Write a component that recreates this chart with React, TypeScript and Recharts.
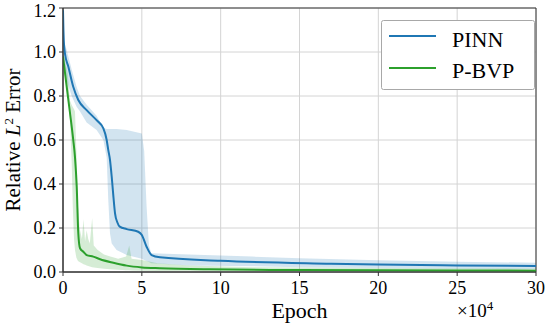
import React from 'react';
import {
  ComposedChart,
  Line,
  Area,
  XAxis,
  YAxis,
  CartesianGrid,
  Legend,
  ReferenceArea,
} from 'recharts';

// Epoch values are in units of 1e4
const xTicks = [0, 5, 10, 15, 20, 25, 30];
const yTicks = [0, 0.2, 0.4, 0.6, 0.8, 1.0, 1.2];
const seriesNames = ['PINN', 'P-BVP'];

// PINN mean curve
const pinnEpochs = [0, 0.05, 0.13, 0.34, 0.65, 0.97, 1.5, 2.13, 2.56, 2.77, 2.87, 2.98, 3.09, 3.2, 3.3, 3.45, 3.6, 4.04, 4.77, 5.0, 5.3, 5.62, 6.15, 10, 17, 20, 25, 30];
const pinnMean = [1.19, 1.05, 0.99, 0.933, 0.842, 0.782, 0.736, 0.69, 0.653, 0.6, 0.555, 0.51, 0.433, 0.34, 0.267, 0.225, 0.206, 0.195, 0.183, 0.168, 0.115, 0.077, 0.067, 0.051, 0.038, 0.034, 0.03, 0.027];

// PINN spread
const pinnBandEpochs = [0, 0.1, 0.23, 0.55, 0.87, 1.08, 1.5, 2.13, 2.56, 2.77, 2.87, 2.98, 3.09, 3.4, 4.04, 5.0, 5.15, 5.3, 5.45, 5.6, 8, 12, 15, 20, 25, 30];
const pinnHigh = [1.2, 1.04, 1.01, 0.92, 0.84, 0.8, 0.76, 0.71, 0.655, 0.65, 0.65, 0.65, 0.65, 0.65, 0.645, 0.63, 0.55, 0.3, 0.12, 0.085, 0.08, 0.07, 0.062, 0.053, 0.047, 0.042];
const pinnLow = [1.0, 0.93, 0.87, 0.8, 0.75, 0.73, 0.68, 0.645, 0.6, 0.52, 0.33, 0.176, 0.13, 0.1, 0.077, 0.06, 0.055, 0.05, 0.045, 0.04, 0.03, 0.026, 0.022, 0.018, 0.015, 0.013];

// P-BVP mean curve
const bvpEpochs = [0, 0.23, 0.44, 0.65, 0.76, 0.87, 0.97, 1.08, 1.29, 1.5, 1.92, 2.35, 3.19, 4.04, 5.0, 6.15, 9.3, 15, 20, 30];
const bvpMean = [0.98, 0.845, 0.725, 0.6, 0.522, 0.388, 0.176, 0.108, 0.092, 0.077, 0.07, 0.058, 0.042, 0.029, 0.021, 0.017, 0.012, 0.009, 0.008, 0.006];

// P-BVP spread
const bvpBandEpochs = [0, 0.3, 0.44, 0.55, 0.62, 0.7, 0.76, 0.85, 0.95, 1.05, 1.2, 1.3, 1.4, 1.5, 1.6, 1.7, 1.85, 1.95, 2.2, 2.6, 3.0, 3.5, 4.0, 4.2, 4.35, 5, 6, 8, 12, 20, 30];
const bvpHigh = [1.0, 0.9, 0.78, 0.76, 0.75, 0.74, 0.73, 0.55, 0.3, 0.2, 0.15, 0.24, 0.14, 0.19, 0.15, 0.13, 0.245, 0.12, 0.1, 0.08, 0.07, 0.06, 0.07, 0.12, 0.06, 0.055, 0.04, 0.03, 0.022, 0.018, 0.015];
const bvpLow = [0.95, 0.8, 0.7, 0.5, 0.3, 0.15, 0.1, 0.065, 0.05, 0.045, 0.04, 0.035, 0.033, 0.03, 0.027, 0.025, 0.022, 0.02, 0.018, 0.015, 0.012, 0.01, 0.008, 0.008, 0.007, 0.006, 0.005, 0.004, 0.004, 0.003, 0.003];

const colors = {
  pinn: '#1f77b4',
  bvp: '#2ca02c',
  grid: '#d4d4d4',
  axis: '#333333',
};

const font = 'Liberation Serif, DejaVu Serif, serif';

const pinnLine = pinnEpochs.map((x, i) => ({ x, y: pinnMean[i] }));
const pinnBand = pinnBandEpochs.map((x, i) => ({ x, range: [pinnLow[i], pinnHigh[i]] }));
const bvpLine = bvpEpochs.map((x, i) => ({ x, y: bvpMean[i] }));
const bvpBand = bvpBandEpochs.map((x, i) => ({ x, range: [bvpLow[i], bvpHigh[i]] }));

const YLabel = (props: any) => {
  const vb = props.viewBox || { x: 0, y: 8, width: 63, height: 264 };
  const cx = 19.5;
  const cy = vb.y + vb.height / 2;
  return (
    <text
      x={cx}
      y={cy}
      transform={`rotate(-90, ${cx}, ${cy})`}
      textAnchor="middle"
      style={{ fontFamily: font }}
      fontSize={21}
      fill="#000"
    >
      Relative <tspan fontStyle="italic">L</tspan>
      <tspan dy={-7} fontSize={13}>2</tspan>
      <tspan dy={7}> Error</tspan>
    </text>
  );
};

const XLabel = (props: any) => {
  const vb = props.viewBox || { x: 63, y: 272, width: 473, height: 56 };
  return (
    <g style={{ fontFamily: font }} fill="#000">
      <text x={vb.x + vb.width / 2} y={318} textAnchor="middle" fontSize={22}>
        Epoch
      </text>
      <text x={457} y={317} fontSize={19}>
        ×10<tspan dy={-7} fontSize={13}>4</tspan>
      </text>
    </g>
  );
};

const renderLegend = (props: any) => {
  const payload = props.payload || [];
  const items = seriesNames
    .map((n) => payload.find((p: any) => p.value === n))
    .filter(Boolean);
  return (
    <svg width={154} height={70} style={{ display: 'block' }}>
      <rect x={0.5} y={0.5} width={153} height={69} rx={2} fill="#fff" stroke="#a8a8a8" />
      {items.map((p: any, i: number) => (
        <g key={p.value}>
          <line x1={8} x2={55} y1={16 + i * 32} y2={16 + i * 32} stroke={p.color} strokeWidth={2} />
          <text x={71} y={27 + i * 31} style={{ fontFamily: font }} fontSize={22} fill="#000">
            {p.value}
          </text>
        </g>
      ))}
    </svg>
  );
};

export default function App() {
  return (
    <div style={{ position: 'absolute', left: 0, top: 0, background: '#fff', fontFamily: font }}>
      <ComposedChart width={548} height={328} margin={{ top: 8, right: 12, bottom: 0, left: 0 }}>
        <CartesianGrid stroke={colors.grid} strokeWidth={1} />
        <XAxis
          type="number"
          dataKey="x"
          domain={[0, 30]}
          ticks={xTicks}
          allowDataOverflow
          height={56}
          stroke={colors.axis}
          tickSize={4}
          tickMargin={5}
          tick={{ fontSize: 18, fill: '#000', style: { fontFamily: font } }}
          label={<XLabel />}
        />
        <YAxis
          type="number"
          domain={[0, 1.2]}
          ticks={yTicks}
          allowDataOverflow
          width={63}
          stroke={colors.axis}
          tickSize={4}
          tickMargin={3}
          tickFormatter={(v: number) => v.toFixed(1)}
          tick={{ fontSize: 18, fill: '#000', style: { fontFamily: font } }}
          label={<YLabel />}
        />
        <Area
          data={pinnBand}
          dataKey="range"
          type="linear"
          stroke="none"
          fill={colors.pinn}
          fillOpacity={0.2}
          legendType="none"
          isAnimationActive={false}
        />
        <Line
          data={pinnLine}
          dataKey="y"
          name="PINN"
          type="monotone"
          stroke={colors.pinn}
          strokeWidth={2}
          dot={false}
          isAnimationActive={false}
        />
        <Area
          data={bvpBand}
          dataKey="range"
          type="linear"
          stroke="none"
          fill={colors.bvp}
          fillOpacity={0.2}
          legendType="none"
          isAnimationActive={false}
        />
        <Line
          data={bvpLine}
          dataKey="y"
          name="P-BVP"
          type="monotone"
          stroke={colors.bvp}
          strokeWidth={2}
          dot={false}
          isAnimationActive={false}
        />
        <ReferenceArea x1={0} x2={30} y1={0} y2={1.2} fill="none" stroke={colors.axis} strokeWidth={1} />
        <Legend
          content={renderLegend}
          layout="vertical"
          align="center"
          verticalAlign="middle"
          wrapperStyle={{ position: 'absolute', left: 381, top: 20, width: 154, height: 70 }}
        />
      </ComposedChart>
    </div>
  );
}
